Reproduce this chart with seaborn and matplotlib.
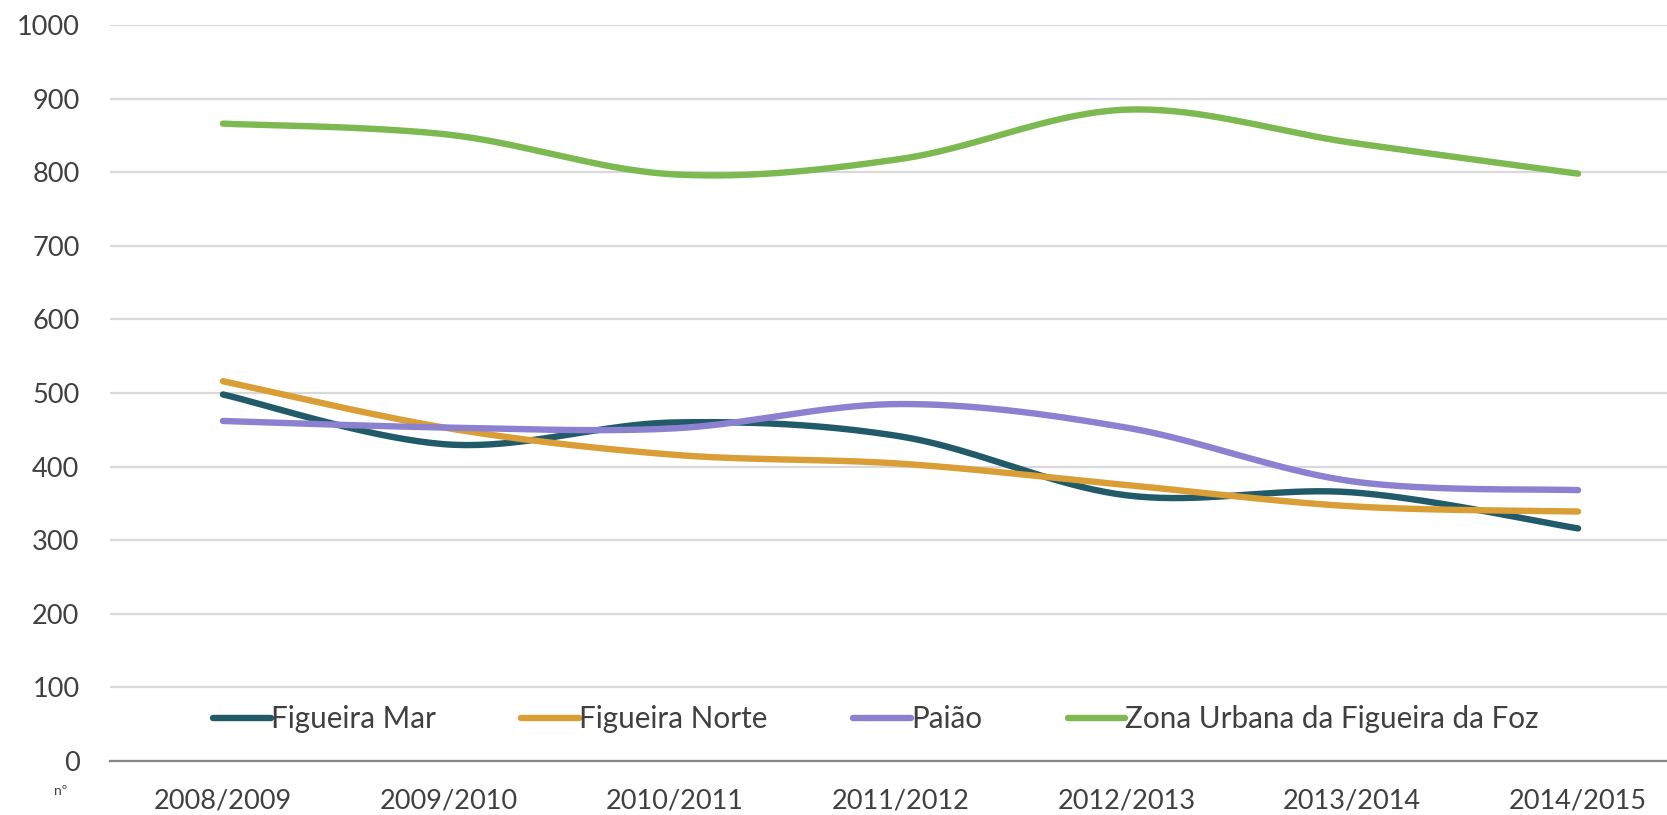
import numpy as np
import pandas as pd
import seaborn as sns
import matplotlib
matplotlib.use("Agg")
import matplotlib.pyplot as plt

# ---- data ----
years = ["2008/2009", "2009/2010", "2010/2011", "2011/2012", "2012/2013", "2013/2014", "2014/2015"]
figueira_mar = [498, 430, 460, 441, 361, 365, 316]
figueira_norte = [516, 452, 416, 404, 375, 346, 339]
paiao = [462, 453, 452, 485, 453, 380, 368]
zona_urbana = [866, 851, 797, 818, 885, 840, 798]
series_names = ["Figueira Mar", "Figueira Norte", "Paião", "Zona Urbana da Figueira da Foz"]
series_values = [figueira_mar, figueira_norte, paiao, zona_urbana]
colors = ["#215A68", "#DA9E37", "#8C80D0", "#7CB950"]


def smooth(vals, n=40):
    """Excel-like smoothed line (Catmull-Rom Bezier) through the data points."""
    x = np.arange(len(vals), dtype=float)
    P = np.column_stack([x, np.asarray(vals, float)])
    E = np.vstack([P[0], P, P[-1]])
    t = np.linspace(0, 1, n)[:, None]
    out = []
    for i in range(len(P) - 1):
        p0, p1, p2, p3 = E[i], E[i + 1], E[i + 2], E[i + 3]
        c1 = p1 + (p2 - p0) / 6.0
        c2 = p2 - (p3 - p1) / 6.0
        seg = (1 - t) ** 3 * p1 + 3 * (1 - t) ** 2 * t * c1 + 3 * (1 - t) * t ** 2 * c2 + t ** 3 * p2
        out.append(seg if i == 0 else seg[1:])
    return np.vstack(out)


frames = []
for name, vals in zip(series_names, series_values):
    pts = smooth(vals)
    frames.append(pd.DataFrame({"x": pts[:, 0], "y": pts[:, 1], "serie": name}))
df = pd.concat(frames, ignore_index=True)

sns.set_theme(style="white")
plt.rcParams["font.family"] = ["Lato", "DejaVu Sans"]

W, H = 1667, 815
fig = plt.figure(figsize=(W / 100, H / 100), dpi=100)
left, right, top, bottom = 110, 1691, 25, 761
ax = fig.add_axes([left / W, 1 - bottom / H, (right - left) / W, (bottom - top) / H])

sns.lineplot(data=df, x="x", y="y", hue="serie", hue_order=series_names,
             palette=colors, sort=False, estimator=None, ax=ax, legend=False,
             linewidth=4.6, solid_capstyle="round")

ax.set_xlim(-0.5, len(years) - 0.5)
ax.set_ylim(0, 1000)
ax.set_yticks(np.arange(0, 1001, 100))
ax.set_xticks(np.arange(len(years)))
ax.set_xticklabels(years)
ax.set_xticks(np.arange(-0.5, len(years), 1), minor=True)
ax.set_xlabel("")
ax.set_ylabel("")

ax.yaxis.grid(True, color="#D9D9D9", linewidth=1.6)
ax.xaxis.grid(False)
ax.set_axisbelow(True)
for s in ["left", "right", "top"]:
    ax.spines[s].set_visible(False)
ax.spines["bottom"].set_color("#868686")
ax.spines["bottom"].set_linewidth(1.6)
ax.spines["bottom"].set_zorder(1)

ax.tick_params(axis="y", length=0, pad=22, labelsize=19.5, labelcolor="#404040")
ax.tick_params(axis="x", which="major", length=0, pad=20, labelsize=19.5, labelcolor="#404040")
ax.tick_params(axis="x", which="minor", length=11, width=1.6, color="#868686", direction="out")

handles = [plt.Line2D([], [], color=c, linewidth=4.6, solid_capstyle="round") for c in colors]
leg = fig.legend(handles, series_names, ncol=4, loc="center",
                 bbox_to_anchor=(876 / W, 1 - 719 / H), frameon=False,
                 fontsize=21.3, handlelength=1.95, handletextpad=0.0,
                 columnspacing=2.9, labelcolor="#404040")

fig.text(61 / W, 1 - 791 / H, "nº", fontsize=10, color="#404040", ha="center", va="center")

fig.savefig("out.png", dpi=100)
